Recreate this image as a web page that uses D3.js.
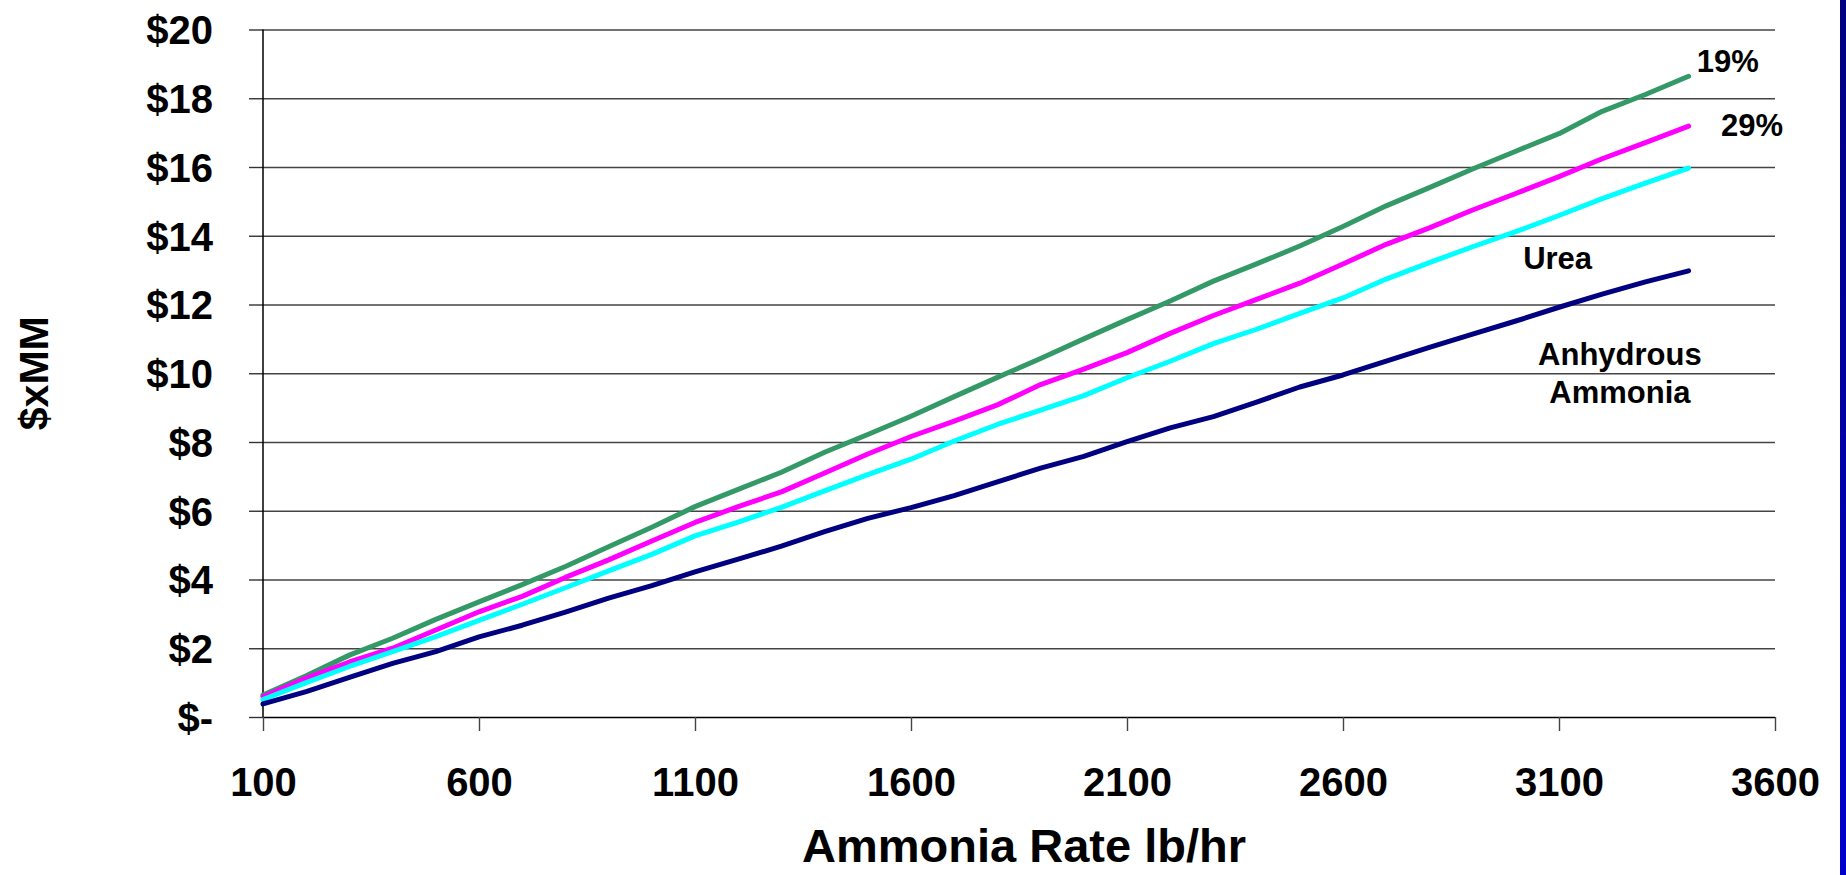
<!DOCTYPE html>
<html>
<head>
<meta charset="utf-8">
<script src="https://cdn.jsdelivr.net/npm/d3@7"></script>
<style>
    html, body { margin: 0; padding: 0; background: #fff; overflow: hidden; }
    svg text { font-family: "Liberation Sans", Arial, sans-serif; font-weight: bold; fill: #000; }
</style>
</head>
<body>
<div id="chart"></div>
<script>
    // values, one point per 100 lb/hr
    let rates = [100, 200, 300, 400, 500, 600, 700, 800, 900, 1000, 1100, 1200, 1300, 1400, 1500, 1600, 1700,
        1800, 1900, 2000, 2100, 2200, 2300, 2400, 2500, 2600, 2700, 2800, 2900, 3000, 3100, 3200, 3300, 3400];

    let cost19 = [0.64, 1.20, 1.80, 2.29, 2.84, 3.35, 3.85, 4.38, 4.95, 5.52, 6.12, 6.62, 7.12, 7.70, 8.22, 8.75, 9.32,
        9.88, 10.43, 11.00, 11.56, 12.10, 12.68, 13.18, 13.70, 14.27, 14.87, 15.40, 15.94, 16.46, 16.97, 17.62, 18.11, 18.64];

    let cost29 = [0.59, 1.13, 1.60, 2.00, 2.53, 3.06, 3.51, 4.06, 4.57, 5.12, 5.66, 6.12, 6.55, 7.10, 7.65, 8.16, 8.61,
        9.08, 9.67, 10.12, 10.60, 11.16, 11.68, 12.15, 12.62, 13.18, 13.75, 14.23, 14.75, 15.23, 15.72, 16.24, 16.71, 17.19];

    let costUrea = [0.51, 1.00, 1.47, 1.90, 2.34, 2.81, 3.28, 3.76, 4.25, 4.73, 5.27, 5.67, 6.10, 6.58, 7.05, 7.50, 8.03,
        8.51, 8.93, 9.35, 9.87, 10.35, 10.86, 11.28, 11.74, 12.19, 12.74, 13.22, 13.68, 14.12, 14.59, 15.08, 15.53, 15.97];

    let costAnhydrous = [0.38, 0.74, 1.15, 1.56, 1.90, 2.33, 2.67, 3.05, 3.46, 3.82, 4.22, 4.59, 4.97, 5.39, 5.78, 6.09, 6.44,
        6.84, 7.24, 7.58, 8.01, 8.41, 8.74, 9.16, 9.60, 9.95, 10.35, 10.75, 11.14, 11.52, 11.92, 12.30, 12.66, 12.98];

    let seriesNames = ["19%", "29%", "Urea", "Anhydrous Ammonia"];
    let seriesColors = ["#339966", "#ff00ff", "#00ffff", "#000080"];

    let xTicks = [100, 600, 1100, 1600, 2100, 2600, 3100, 3600];
    let yTicks = [0, 2, 4, 6, 8, 10, 12, 14, 16, 18, 20];

    let settings = {
        width: 1846,
        height: 875,
        left: 263,
        right: 1775,
        top: 29.5,
        bottom: 717,
        tick: 14,
        line_width: 5,
    };

    function draw() {
        let svg = d3.select("#chart").append("svg")
            .attr("width", settings.width)
            .attr("height", settings.height);

        let grad = svg.append("defs").append("linearGradient")
            .attr("id", "edge")
            .attr("x1", 0).attr("y1", 0).attr("x2", 0).attr("y2", 1);
        grad.append("stop").attr("offset", "0%").attr("stop-color", "#000080");
        grad.append("stop").attr("offset", "100%").attr("stop-color", "#0000cc");

        // blue strip on the right edge
        svg.append("rect")
            .attr("x", 1840).attr("y", 0)
            .attr("width", settings.width - 1840).attr("height", settings.height)
            .attr("fill", "url(#edge)");

        let x = d3.scaleLinear().domain([100, 3600]).range([settings.left, settings.right]);
        let y = d3.scaleLinear().domain([0, 20]).range([settings.bottom, settings.top]);

        // horizontal grid + y ticks
        let yAxis = d3.axisLeft(y)
            .tickValues(yTicks)
            .tickSize(settings.tick)
            .tickPadding(36)
            .tickFormat(d => d === 0 ? "$-" : "$" + d);

        let gy = svg.append("g")
            .attr("transform", "translate(" + settings.left + ",0)")
            .call(yAxis);
        gy.select(".domain").remove();
        gy.selectAll(".tick line").attr("stroke", "#333").attr("stroke-width", 1.4);
        gy.selectAll(".tick").append("line")
            .attr("x1", 0).attr("x2", settings.right - settings.left)
            .attr("stroke", d => d === 0 ? "#000" : "#444")
            .attr("stroke-width", d => d === 0 ? 1.6 : 1.4);
        gy.selectAll(".tick text")
            .attr("font-size", 40)
            .attr("dy", "0.36em");

        let xAxis = d3.axisBottom(x)
            .tickValues(xTicks)
            .tickSize(settings.tick)
            .tickPadding(36)
            .tickFormat(d3.format("d"));

        let gx = svg.append("g")
            .attr("transform", "translate(0," + settings.bottom + ")")
            .call(xAxis);
        gx.select(".domain").remove();
        gx.selectAll(".tick line").attr("stroke", "#444").attr("stroke-width", 1.4);
        gx.selectAll(".tick text")
            .attr("font-size", 40)
            .attr("dy", "0.72em");

        svg.append("line")
            .attr("x1", settings.left).attr("x2", settings.left)
            .attr("y1", settings.top).attr("y2", settings.bottom)
            .attr("stroke", "#000").attr("stroke-width", 1.5);

        let all = [cost19, cost29, costUrea, costAnhydrous];
        let line = d3.line()
            .x((d, i) => x(rates[i]))
            .y(d => y(d));

        svg.append("g")
            .selectAll("path")
            .data(all)
            .enter().append("path")
            .attr("fill", "none")
            .attr("stroke", (d, i) => seriesColors[i])
            .attr("stroke-width", settings.line_width)
            .attr("stroke-linejoin", "round")
            .attr("stroke-linecap", "round")
            .attr("d", line);

        // series labels near the line ends (rate, $ of the text baseline)
        let notes = [
            {text: seriesNames[0], rx: 3419, ry: 18.75, anchor: "start"},
            {text: seriesNames[1], rx: 3475, ry: 16.91, anchor: "start"},
            {text: seriesNames[2], rx: 3017, ry: 13.04, anchor: "start"},
            {text: "Anhydrous", rx: 3241, ry: 10.25, anchor: "middle"},
            {text: "Ammonia", rx: 3241, ry: 9.14, anchor: "middle"},
        ];
        svg.append("g")
            .selectAll("text")
            .data(notes)
            .enter().append("text")
            .attr("x", d => x(d.rx))
            .attr("y", d => y(d.ry))
            .attr("text-anchor", d => d.anchor)
            .attr("font-size", 31)
            .text(d => d.text);

        svg.append("text")
            .attr("x", (settings.left + settings.right) / 2 + 5)
            .attr("y", 862)
            .attr("text-anchor", "middle")
            .attr("font-size", 47)
            .text("Ammonia Rate lb/hr");

        svg.append("text")
            .attr("transform", "translate(48," + ((settings.top + settings.bottom) / 2) + ") rotate(-90)")
            .attr("text-anchor", "middle")
            .attr("font-size", 41)
            .text("$xMM");
    }

    draw();
</script>
</body>
</html>
